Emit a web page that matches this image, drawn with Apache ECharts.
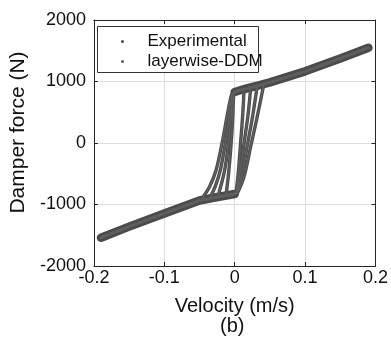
<!DOCTYPE html>
<html>
<head>
<meta charset="utf-8">
<script src="https://cdn.jsdelivr.net/npm/echarts@6/dist/echarts.min.js"></script>
<style>html,body{margin:0;padding:0;background:#fff}#c{width:391px;height:345px}</style>
</head>
<body>
<div id="c"></div>
<script>
// ---- data ----
const xTicks = [-0.2, -0.1, 0, 0.1, 0.2];
const yTicks = [-2000, -1000, 0, 1000, 2000];

// post-yield branches (velocity m/s, force N)
const upperV = [0, 0.01, 0.02, 0.03, 0.05, 0.1, 0.15, 0.19];
const upperF = [830, 865, 895, 925, 985, 1165, 1375, 1550];
const lowerV = [-0.19, -0.15, -0.1, -0.05, -0.03, -0.02, -0.01, 0];
const lowerF = [-1540, -1360, -1145, -935, -890, -870, -850, -830];

// descending transition curves (upper corner -> lower branch)
const desc1V = [-0.001, -0.0044, -0.0101, -0.0171, -0.0264, -0.0358, -0.0475];
const desc1F = [830, 790, 482, 49, -439, -710, -920];
const desc2V = [-0.001, -0.003, -0.0077, -0.0133, -0.0204, -0.0278, -0.0358];
const desc2F = [830, 790, 428, -5, -439, -710, -905];
const desc3V = [-0.001, -0.0021, -0.0054, -0.0091, -0.0147, -0.0241];
const desc3F = [830, 786, 401, -33, -466, -880];
const desc4V = [-0.001, -0.0016, -0.003, -0.0054, -0.0087, -0.0124];
const desc4F = [830, 780, 374, -60, -493, -855];

// ascending transition curves (lower corner -> upper branch)
const asc1V = [0.001, 0.0021, 0.0054, 0.0087, 0.0115, 0.0133];
const asc1F = [-830, -791, -439, 49, 482, 870];
const asc2V = [0.001, 0.003, 0.0073, 0.0133, 0.0189, 0.0227];
const asc2F = [-830, -791, -493, -5, 455, 893];
const asc3V = [0.001, 0.004, 0.0101, 0.018, 0.0255, 0.032];
const asc3F = [-830, -791, -520, -33, 439, 925];
const asc4V = [0.001, 0.0049, 0.0133, 0.0227, 0.032, 0.0414];
const asc4F = [-830, -791, -547, -60, 428, 955];

const seriesNames = ['Experimental', 'layerwise-DDM'];

// ---- build ----
function pairs(v, f) { return v.map((x, i) => [x, f[i]]); }
const branches = [[upperV, upperF], [lowerV, lowerF]];
const curves = [[desc1V, desc1F], [desc2V, desc2F], [desc3V, desc3F], [desc4V, desc4F],
                [asc1V, asc1F], [asc2V, asc2F], [asc3V, asc3F], [asc4V, asc4F]];

const styles = {
  'Experimental': { color: '#4b4b4b', branchW: 8.5, curveW: 3.4, z: 2 },
  'layerwise-DDM': { color: '#5e5e5e', branchW: 3, curveW: 1.6, z: 3 }
};

const series = [];
seriesNames.forEach(name => {
  const s = styles[name];
  branches.forEach(b => series.push({
    name, type: 'line', data: pairs(b[0], b[1]), showSymbol: false, symbol: 'circle',
    color: s.color, z: s.z, silent: true, animation: false, clip: true,
    lineStyle: { color: s.color, width: s.branchW, cap: 'round', join: 'round' }
  }));
  curves.forEach(c => series.push({
    name, type: 'line', data: pairs(c[0], c[1]), showSymbol: false, symbol: 'circle',
    color: s.color, z: s.z, silent: true, animation: false, smooth: 0.3,
    lineStyle: { color: s.color, width: s.curveW, cap: 'round', join: 'round' }
  }));
});

const font = 'Liberation Sans, Arial, Helvetica, sans-serif';
const axisLine = { show: true, onZero: false, lineStyle: { color: '#262626', width: 1 } };
const axisTick = { show: true, inside: true, length: 4, lineStyle: { color: '#262626' } };

const chart = echarts.init(document.getElementById('c'), null, { renderer: 'canvas' });
chart.setOption({
  animation: false,
  backgroundColor: '#fff',
  grid: { left: 93, right: 13, top: 20, bottom: 79, containLabel: false },
  xAxis: [{
    type: 'value', min: xTicks[0], max: xTicks[xTicks.length - 1], interval: 0.1,
    axisLine, axisTick,
    splitLine: { show: true, lineStyle: { color: '#dedede', width: 1 } },
    axisLabel: { color: '#111', fontSize: 18, fontFamily: font, margin: 3,
      formatter: v => String(Math.round(v * 10) / 10) },
    name: 'Velocity (m/s)', nameLocation: 'middle', nameGap: 30,
    nameTextStyle: { color: '#111', fontSize: 20, fontFamily: font }
  }, {
    type: 'value', position: 'top', min: xTicks[0], max: xTicks[xTicks.length - 1], interval: 0.1,
    axisLine, axisTick, axisLabel: { show: false }, splitLine: { show: false }
  }],
  yAxis: [{
    type: 'value', min: yTicks[0], max: yTicks[yTicks.length - 1], interval: 1000,
    axisLine, axisTick,
    splitLine: { show: true, lineStyle: { color: '#dedede', width: 1 } },
    axisLabel: { color: '#111', fontSize: 18, fontFamily: font, margin: 8,
      formatter: v => String(Math.round(v)) },
    name: 'Damper force (N)', nameLocation: 'middle', nameGap: 60, nameRotate: 90,
    nameTextStyle: { color: '#111', fontSize: 21, fontFamily: font, padding: [0, 0, 0, 21] }
  }, {
    type: 'value', position: 'right', min: yTicks[0], max: yTicks[yTicks.length - 1], interval: 1000,
    axisLine, axisTick, axisLabel: { show: false }, splitLine: { show: false }
  }],
  legend: {
    data: seriesNames.map(n => ({ name: n })),
    orient: 'vertical', left: 121, top: 33, padding: 0, itemGap: 3,
    icon: 'circle', itemWidth: 40, itemHeight: 3, z: 10,
    selectedMode: false,
    textStyle: { color: '#111', fontSize: 17, fontFamily: font, lineHeight: 17 }
  },
  graphic: [
    { type: 'rect', z: 9, silent: true, shape: { x: 97.5, y: 26.5, width: 161, height: 46 },
      style: { fill: '#fff', stroke: '#333', lineWidth: 1 } },
    { type: 'text', z: 9, left: 220, top: 316, silent: true,
      style: { text: '(b)', fill: '#111', font: '20px ' + font } }
  ],
  series
});
</script>
</body>
</html>
